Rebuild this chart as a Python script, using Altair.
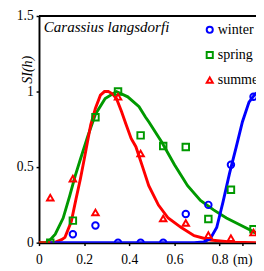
import altair as alt
import pandas as pd

# ---- data ----
seasons = ["winter", "spring", "summer"]
season_colors = ["#0000ff", "#009900", "#ff0000"]
season_shapes = ["circle", "square", "triangle-up"]

winter_px = [0.15, 0.25, 0.35, 0.45, 0.55, 0.65, 0.75, 0.85, 0.95]
winter_py = [0.056, 0.114, 0.0, 0.0, 0.0, 0.19, 0.25, 0.516, 0.965]

spring_px = [0.05, 0.15, 0.25, 0.35, 0.45, 0.55, 0.65, 0.75, 0.85, 0.95]
spring_py = [0.0, 0.146, 0.83, 1.0, 0.71, 0.64, 0.633, 0.157, 0.35, 0.089]

summer_px = [0.05, 0.15, 0.25, 0.35, 0.45, 0.55, 0.65, 0.75, 0.85, 0.95]
summer_py = [0.298, 0.424, 0.2, 0.965, 0.59, 0.16, 0.13, 0.05, 0.03, 0.067]

winter_cx = [0.05, 0.687, 0.73, 0.758, 0.787, 0.815, 0.844, 0.873, 0.901, 0.93, 0.958, 0.975]
winter_cy = [0.0, 0.0, 0.005, 0.025, 0.1, 0.27, 0.46, 0.63, 0.80, 0.93, 0.985, 1.0]

spring_cx = [0.0, 0.029, 0.05, 0.072, 0.107, 0.136, 0.16, 0.183, 0.215, 0.25, 0.293,
             0.343, 0.393, 0.443, 0.472, 0.486, 0.544, 0.60, 0.658, 0.715, 0.773,
             0.83, 0.887, 0.958, 0.975]
spring_cy = [0.0, 0.0, 0.02, 0.056, 0.163, 0.31, 0.44, 0.55, 0.70, 0.85, 0.954,
             1.0, 0.965, 0.90, 0.83, 0.80, 0.665, 0.516, 0.377, 0.28, 0.217,
             0.163, 0.12, 0.067, 0.06]

summer_cx = [0.0, 0.05, 0.07, 0.10, 0.115, 0.143, 0.164, 0.183, 0.2, 0.229, 0.25,
             0.272, 0.29, 0.307, 0.325, 0.343, 0.365, 0.386, 0.408, 0.429, 0.458,
             0.486, 0.529, 0.572, 0.63, 0.687, 0.758, 0.858, 0.975]
summer_cy = [0.0, 0.0, 0.002, 0.02, 0.035, 0.14, 0.29, 0.42, 0.55, 0.78, 0.89,
             0.976, 1.0, 1.0, 0.985, 0.954, 0.87, 0.78, 0.69, 0.635, 0.505,
             0.377, 0.249, 0.163, 0.10, 0.046, 0.018, 0.003, 0.0]

x_tick_values = [0, 0.2, 0.4, 0.6, 0.8, 0.9]
x_tick_labels = ["0", "0.2", "0.4", "0.6", "0.8", "(m)"]
y_tick_values = [0, 0.5, 1, 1.5]
y_tick_labels = ["0", "0.5", "1", "1.5"]

species_title = "Carassius langsdorfi"
y_title = "SI(h)"

# ---- tables ----
pts = pd.concat([
    pd.DataFrame({"x": winter_px, "y": winter_py, "season": "winter"}),
    pd.DataFrame({"x": spring_px, "y": spring_py, "season": "spring"}),
    pd.DataFrame({"x": summer_px, "y": summer_py, "season": "summer"}),
], ignore_index=True)

curves = pd.concat([
    pd.DataFrame({"x": spring_cx, "y": spring_cy, "season": "spring", "o": 0}),
    pd.DataFrame({"x": summer_cx, "y": summer_cy, "season": "summer", "o": 1}),
    pd.DataFrame({"x": winter_cx, "y": winter_cy, "season": "winter", "o": 2}),
], ignore_index=True)


def label_expr(values, labels):
    parts = " : ".join(f"abs(datum.value - {v}) < 1e-6 ? '{l}'" for v, l in zip(values, labels))
    return parts + " : ''"


SERIF = "'Liberation Serif', 'Times New Roman', Times, serif"

x_enc = alt.X("x:Q", scale=alt.Scale(domain=[0, 0.961], nice=False, zero=False),
              axis=alt.Axis(values=x_tick_values,
                            labelExpr=label_expr(x_tick_values, x_tick_labels),
                            title=None, grid=False, tickSize=3, labelPadding=7,
                            labelFlush=False, labelOverlap=False))
y_enc = alt.Y("y:Q", scale=alt.Scale(domain=[0, 1.5], nice=False),
              axis=alt.Axis(values=y_tick_values,
                            labelExpr=label_expr(y_tick_values, y_tick_labels),
                            title=y_title, titleFontStyle="italic", titleFont=SERIF,
                            titleFontSize=14.5, titleFontWeight="normal",
                            titleAngle=270, titleX=-8, titleY=55,
                            titleAlign="center", titleBaseline="alphabetic",
                            grid=False, tickSize=3, labelPadding=3,
                            labelFlush=False, labelOverlap=False))

color_scale = alt.Scale(domain=seasons, range=season_colors)
shape_scale = alt.Scale(domain=seasons, range=season_shapes)

season_legend = alt.Legend(orient="none", legendX=169, legendY=7, title=None,
                           labelFont=SERIF, labelFontSize=14.5, labelColor="black",
                           symbolStrokeWidth=2, symbolSize=40, rowPadding=10,
                           symbolFillColor="transparent",
                           labelOffset=1, padding=0)

lines = alt.Chart(curves).mark_line(strokeWidth=3, clip=True).encode(
    x=x_enc, y=y_enc,
    color=alt.Color("season:N", scale=color_scale, legend=season_legend),
    detail="season:N",
    order="o:Q",
)

points = alt.Chart(pts).mark_point(filled=False, strokeWidth=2, size=45, clip=True, opacity=1).encode(
    x=x_enc, y=y_enc,
    color=alt.Color("season:N", scale=color_scale, legend=season_legend),
    shape=alt.Shape("season:N", scale=shape_scale, legend=season_legend),
)

top_rule = alt.Chart().mark_rule(color="black", strokeWidth=2).encode(y=alt.datum(1.5))

title_text = alt.Chart().mark_text(
    text=species_title, font=SERIF, fontStyle="italic", fontSize=15.5,
    align="left", baseline="alphabetic", color="black"
).encode(x=alt.value(5), y=alt.value(16.5))

chart = alt.layer(lines, points, top_rule, title_text).properties(
    width=224, height=234,
    padding={"left": 32, "top": 4, "right": 0, "bottom": 25},
    autosize=alt.AutoSizeParams(type="none"),
).configure_view(stroke=None).configure_axis(
    domainColor="black", domainWidth=2, tickColor="black", tickWidth=1.5,
    labelFont=SERIF, labelFontSize=14, labelColor="black",
)

chart.save("out.html", embed_options={"renderer": "svg", "actions": False})
